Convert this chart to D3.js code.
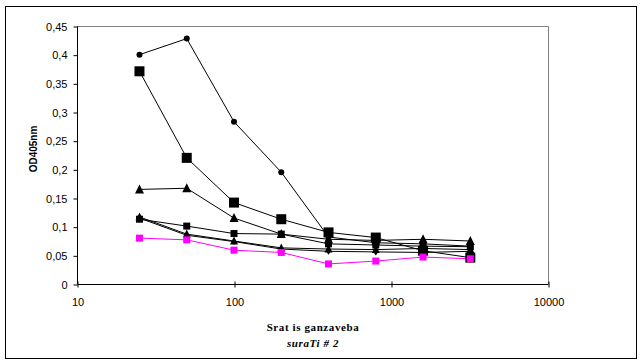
<!DOCTYPE html>
<html>
<head>
<meta charset="utf-8">
<script src="https://cdn.jsdelivr.net/npm/d3@7"></script>
<style>
  body { margin: 0; background: #fff; }
</style>
</head>
<body>
<div id="chart"></div>
<script>
var width  = 642;
var height = 364;

// dilution steps (x) and OD readings per serum
var dilutions = [25, 50, 100, 200, 400, 800, 1600, 3200];
var circles   = [0.400, 0.428, 0.283, 0.195, 0.082, 0.072, 0.070, 0.066];
var bigSquare = [0.371, 0.220, 0.142, 0.113, 0.090, 0.081, 0.058, 0.046];
var triangles = [0.165, 0.167, 0.115, 0.087, 0.078, 0.076, 0.078, 0.075];
var squares   = [0.113, 0.101, 0.088, 0.087, 0.070, 0.068, 0.066, 0.065];
var smallTri  = [0.117, 0.087, 0.075, 0.063, 0.061, 0.060, 0.062, 0.060];
var diamonds  = [0.115, 0.085, 0.074, 0.061, 0.057, 0.056, 0.055, 0.057];
var magenta   = [0.080, 0.077, 0.059, 0.055, 0.035, 0.040, 0.047, 0.044];

var xTicks = [10, 100, 1000, 10000];
var yTicks = [0, 0.05, 0.1, 0.15, 0.2, 0.25, 0.3, 0.35, 0.4, 0.45];

var series = [
  {values: circles,   color: "#000", marker: "circle",   size: 3},
  {values: bigSquare, color: "#000", marker: "square",   size: 10},
  {values: triangles, color: "#000", marker: "triangle", size: 8},
  {values: squares,   color: "#000", marker: "square",   size: 7},
  {values: smallTri,  color: "#000", marker: "triangle", size: 7},
  {values: diamonds,  color: "#000", marker: "diamond",  size: 7},
  {values: magenta,   color: "#ff00ff", marker: "square", size: 7}
];

var pLeft = 77, pRight = 548, pTop = 26, pBottom = 284;

var x = d3.scaleLog().domain([10, 10000]).range([pLeft, pRight]);
var y = d3.scaleLinear().domain([0, 0.45]).range([pBottom, pTop]);

var svg = d3.select("#chart").append("svg")
  .attr("width", width)
  .attr("height", height);

// outer frame
svg.append("rect")
  .attr("x", 5.5).attr("y", 6.5)
  .attr("width", 631).attr("height", 352)
  .attr("fill", "none").attr("stroke", "#000");

// gray top/right plot border
svg.append("path")
  .attr("d", "M" + pLeft + "," + (pTop + 0.5) + "H" + (pRight + 0.5) + "V" + pBottom)
  .attr("fill", "none").attr("stroke", "#808080");

// axes
var yAxis = d3.axisLeft(y).tickValues(yTicks).tickSize(4).tickPadding(6)
  .tickFormat(function(d) { return String(+d.toFixed(2)).replace(".", ","); });
var gy = svg.append("g").attr("transform", "translate(" + (pLeft + 0.5) + ",0.5)").call(yAxis);
gy.select(".domain").attr("d", "M0," + pTop + "V" + pBottom);

var xAxis = d3.axisBottom(x).tickValues(xTicks).tickSize(4).tickPadding(10)
  .tickFormat(d3.format("d"));
var gx = svg.append("g").attr("transform", "translate(0.5," + (pBottom + 0.5) + ")").call(xAxis);
gx.select(".domain").attr("d", "M" + pLeft + ",0H" + pRight);
gx.selectAll(".tick line").attr("y1", -3).attr("y2", 3);

svg.selectAll(".tick text").attr("font-size", 11).attr("fill", "#000")
  .attr("font-family", "Liberation Sans, Arial, sans-serif");
svg.selectAll(".domain, .tick line").attr("stroke", "#000");

// lines
var line = d3.line()
  .x(function(d, i) { return x(dilutions[i]); })
  .y(function(d) { return y(d); });

series.forEach(function(s) {
  svg.append("path")
    .datum(s.values)
    .attr("d", line)
    .attr("fill", "none")
    .attr("stroke", s.color)
    .attr("stroke-width", 1);
});

// markers
function markerPath(type, s) {
  var h = s / 2;
  if (type === "square") return "M" + -h + "," + -h + "h" + s + "v" + s + "h" + -s + "Z";
  if (type === "triangle") return "M0," + (-h - 1) + "L" + (h + 0.5) + "," + h + "L" + (-h - 0.5) + "," + h + "Z";
  if (type === "diamond") return "M0," + -h + "L" + (h - 1) + ",0L0," + h + "L" + (1 - h) + ",0Z";
  return null;
}

series.forEach(function(s) {
  var g = svg.append("g");
  s.values.forEach(function(v, i) {
    var cx = x(dilutions[i]), cy = y(v);
    if (s.marker === "circle") {
      g.append("circle").attr("cx", cx).attr("cy", cy).attr("r", s.size).attr("fill", s.color);
    } else {
      g.append("path")
        .attr("transform", "translate(" + cx + "," + cy + ")")
        .attr("d", markerPath(s.marker, s.size))
        .attr("fill", s.color);
    }
  });
});

// axis titles
svg.append("text")
  .attr("transform", "translate(37,149) rotate(-90)")
  .attr("text-anchor", "middle")
  .attr("font-family", "Liberation Sans, Arial, sans-serif")
  .attr("font-size", 10).attr("font-weight", "bold")
  .text("OD405nm");

svg.append("text")
  .attr("x", 313).attr("y", 331)
  .attr("text-anchor", "middle")
  .attr("font-family", "Liberation Serif, Times New Roman, serif")
  .attr("font-size", 11).attr("font-weight", "bold")
  .attr("letter-spacing", 0.6)
  .text("Srat is  ganzaveba");

svg.append("text")
  .attr("x", 313).attr("y", 347)
  .attr("text-anchor", "middle")
  .attr("font-family", "Liberation Serif, Times New Roman, serif")
  .attr("font-size", 11).attr("font-weight", "bold").attr("font-style", "italic")
  .attr("letter-spacing", 0.6)
  .text("suraTi # 2");
</script>
</body>
</html>
